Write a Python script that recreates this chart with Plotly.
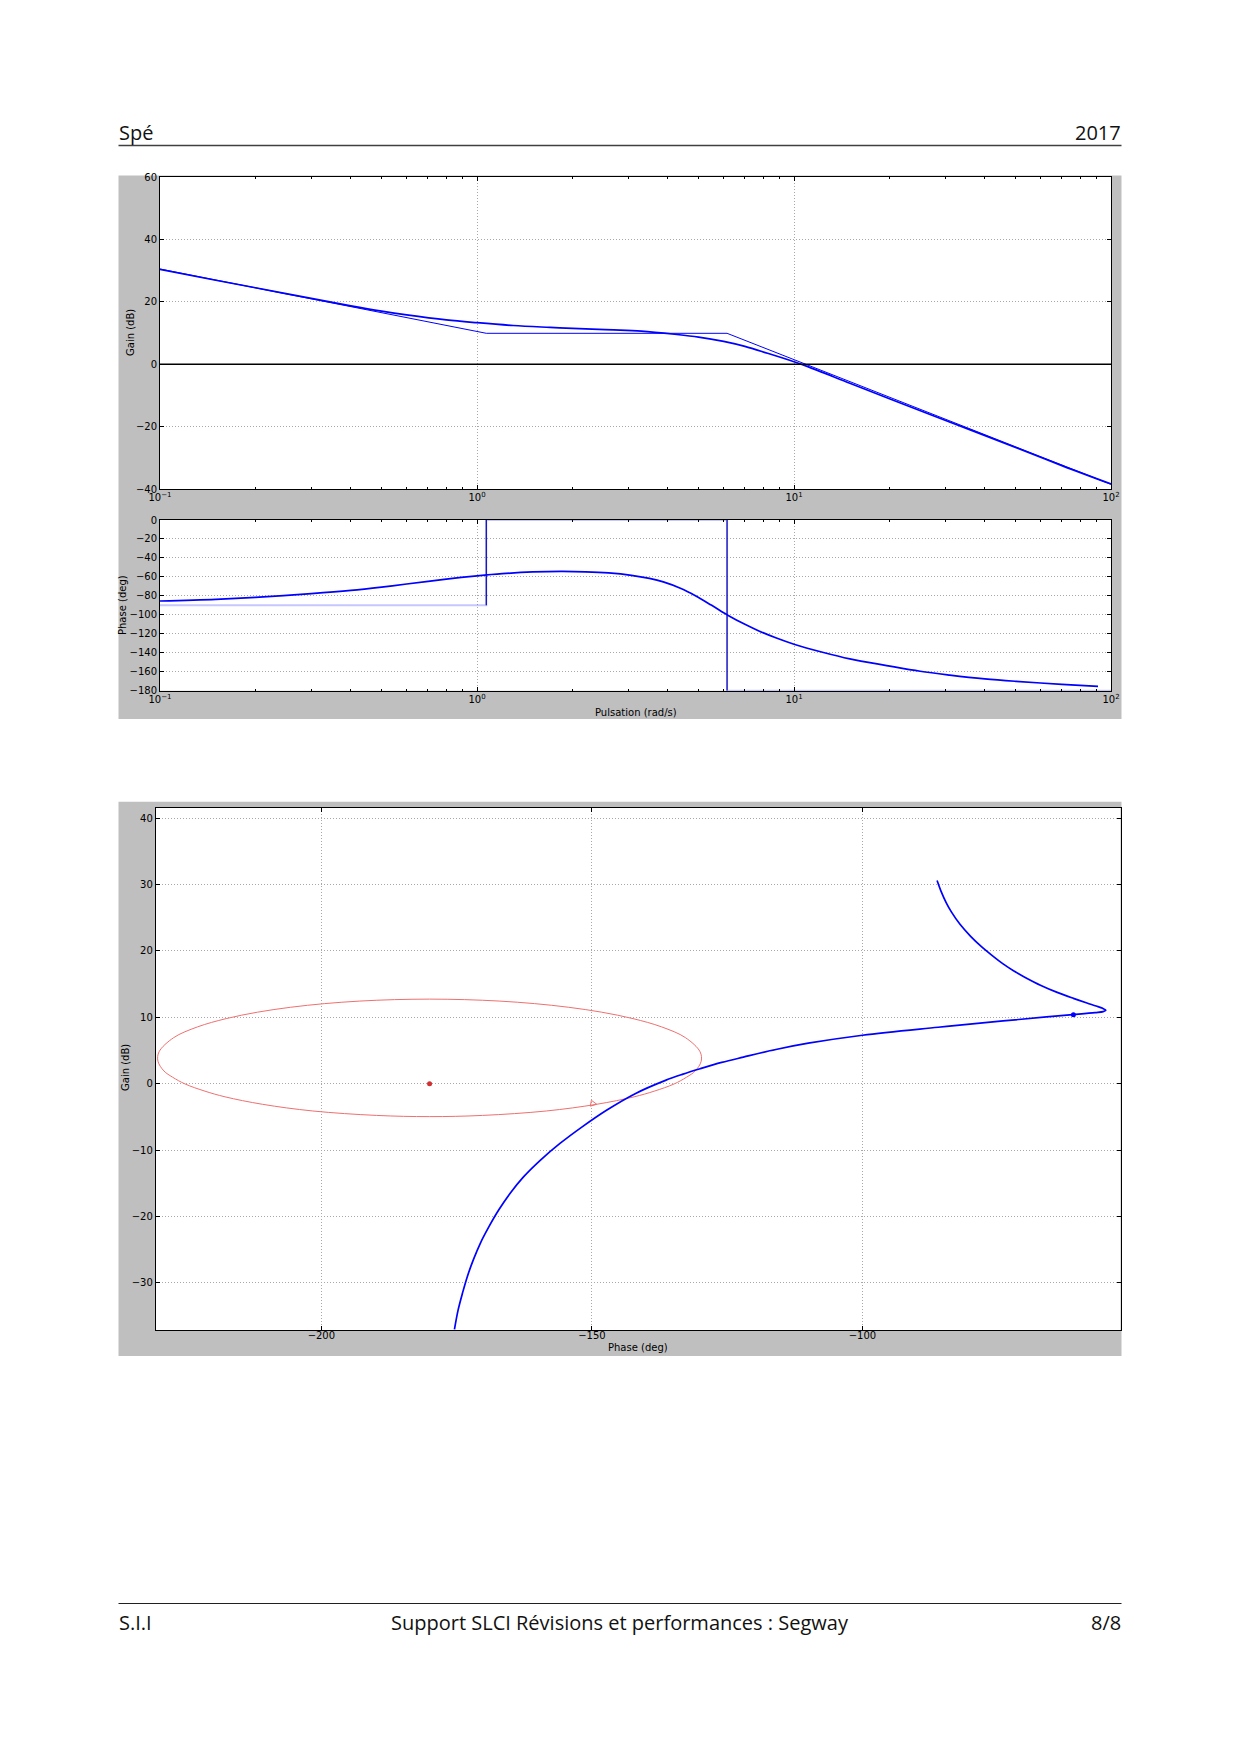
import plotly.graph_objects as go

W, H = 1240, 1754

# ---------------- data ----------------
# Bode gain, real curve
w_gain = [0.1, 0.15, 0.2, 0.3, 0.4, 0.5, 0.6, 0.8, 1.0, 1.3, 1.7, 2.2, 2.7, 3.3, 4.2,
          5.0, 6.0, 7.0, 8.25, 10.0, 11.0, 15.0, 20.0, 31.7, 50.0, 70.0, 100.0]
g_real = [30.4, 26.9, 24.5, 21.1, 18.7, 17.0, 15.8, 14.2, 13.3, 12.4, 11.8, 11.3, 11.0, 10.6, 9.6,
          8.7, 7.3, 5.7, 3.5, 0.8, -0.7, -6.1, -11.1, -18.9, -26.7, -32.5, -38.4]
# Bode gain, asymptotic curve
w_gain_asym = [0.1, 1.07, 6.15, 100.0]
g_asym = [30.5, 9.9, 9.9, -38.5]

# Bode phase, real curve
w_phase = [0.1, 0.15, 0.2, 0.3, 0.4, 0.5, 0.6, 0.8, 1.0, 1.2, 1.5, 1.84, 2.2, 2.6, 3.07,
           3.5, 3.87, 4.4, 4.87, 5.5, 6.2, 7.0, 7.75, 8.8, 10.0, 12.3, 15.0, 19.6, 25.0,
           31.0, 40.0, 50.0, 70.0, 91.0]
p_real = [-85.4, -83.6, -81.6, -77.7, -74.3, -70.8, -67.5, -62.3, -58.9, -56.6, -54.8, -54.2,
          -54.6, -55.8, -58.3, -61.6, -65.3, -72.2, -79.6, -90.0, -100.6, -110.0, -117.0,
          -124.5, -131.0, -139.5, -146.5, -153.5, -159.5, -163.5, -167.5, -170.1, -173.3, -175.4]
# Bode phase, asymptotic curve
w_phase_asym = [0.1, 1.07, 1.07, 6.15, 6.15, 100.0]
p_asym = [-90, -90, 0, 0, -180, -180]

# Black-Nichols curve (phase deg, gain dB)
bn_phase = [-86.2, -85.5, -84.5, -83.5, -82.0, -80.0, -78.0, -76.0, -74.0, -72.0, -70.0,
            -67.0, -64.0, -61.0, -58.5, -56.8, -55.6, -55.0, -55.5, -57.0, -61.0, -66.0,
            -74.0, -86.0, -100.0, -110.0, -116.0, -122.0, -126.0, -130.0, -133.3, -136.4,
            -142.0, -147.3, -151.8, -155.9, -159.5, -162.6, -165.1, -167.2, -169.0, -170.6,
            -171.9, -173.0, -173.9, -174.7, -175.4]
bn_gain = [30.6, 29.05, 27.25, 25.8, 24.05, 22.2, 20.65, 19.3, 18.05, 16.98, 16.05,
           14.8, 13.75, 12.85, 12.15, 11.7, 11.35, 11.05, 10.85, 10.7, 10.4, 10.05,
           9.45, 8.5, 7.3, 6.1, 5.15, 4.0, 3.2, 2.25, 1.4, 0.5,
           -1.5, -4.0, -6.5, -9.0, -11.5, -14.0, -16.5, -19.0, -21.5, -24.0,
           -26.5, -29.0, -31.5, -34.0, -37.0]
bn_marker = [(-61.0, 10.4)]

# iso-gain contour around the critical point
iso_phase = [-180.0, -170.2, -158.4, -149.1, -142.2, -138.5, -134.8, -132.5, -130.9, -129.8,
             -130.0, -132.7, -137.1, -142.4, -148.2, -154.3, -160.6, -167.0, -173.5, -180.0,
             -186.5, -193.0, -199.4, -205.7, -211.8, -217.6, -222.9, -227.3, -230.0, -230.2,
             -229.1, -227.5, -225.2, -221.5, -217.8, -210.9, -201.6, -189.8, -180.0]
iso_gain = [-4.96, -4.78, -4.11, -3.10, -1.98, -1.13, -0.04, 0.98, 1.92, 3.38,
            4.80, 6.93, 8.55, 9.80, 10.77, 11.51, 12.06, 12.44, 12.66, 12.74,
            12.66, 12.44, 12.06, 11.51, 10.77, 9.80, 8.55, 6.93, 4.80, 3.38,
            1.92, 0.98, -0.04, -1.13, -1.98, -3.10, -4.11, -4.78, -4.96]
iso_arrow = [(-149.1, -3.10)]
critical_point = [(-180.0, 0.0)]

gain_ticks = [-40, -20, 0, 20, 40, 60]
phase_ticks = [-180, -160, -140, -120, -100, -80, -60, -40, -20, 0]
bn_xticks = [-200, -150, -100]
bn_yticks = [-30, -20, -10, 0, 10, 20, 30, 40]
decades = [0.1, 1, 10, 100]
decade_labels = ["10<sup>\u22121</sup>", "10<sup>0</sup>", "10<sup>1</sup>", "10<sup>2</sup>"]
minor_log = [m * d for d in [0.1, 1, 10] for m in range(2, 10)]


def lab(v):
    return str(v).replace("-", "\u2212")


# ---------------- layout geometry (page pixels) ----------------
OFF = 8  # the page body offsets the figure by 8 px


def px(x):
    return (x - OFF) / W


def py(y):
    return 1 - (y - OFF) / H


BODE_BG = (118.5, 175.5, 1121.5, 719)
BN_BG = (118.5, 801.7, 1121.5, 1356)
GAIN_AREA = (160, 177, 1111, 489)
PHASE_AREA = (160, 520, 1111, 690.7)
BN_AREA = (155.8, 807.5, 1120.5, 1330)

BLUE = "#0000ff"
TICKFONT = dict(family="DejaVu Sans", size=10, color="black")

fig = go.Figure()

# Gain traces
fig.add_trace(go.Scatter(x=w_gain_asym, y=g_asym, mode="lines",
                         line=dict(color=BLUE, width=1), xaxis="x", yaxis="y"))
fig.add_trace(go.Scatter(x=w_gain, y=g_real, mode="lines", line_shape="spline",
                         line=dict(color=BLUE, width=1.7), xaxis="x", yaxis="y"))
# Phase traces: asymptote (horizontal parts rendered pale, vertical parts dark)
fig.add_trace(go.Scatter(x=w_phase_asym, y=p_asym, mode="lines",
                         line=dict(color="rgba(70,70,255,0.3)", width=2), xaxis="x2", yaxis="y2"))
vx, vy = [], []
for i in range(len(w_phase_asym) - 1):
    if w_phase_asym[i] == w_phase_asym[i + 1]:
        vx += [w_phase_asym[i], w_phase_asym[i + 1], None]
        vy += [p_asym[i], p_asym[i + 1], None]
fig.add_trace(go.Scatter(x=vx, y=vy, mode="lines",
                         line=dict(color="#1010b8", width=1.3), xaxis="x2", yaxis="y2"))
fig.add_trace(go.Scatter(x=w_phase, y=p_real, mode="lines", line_shape="spline",
                         line=dict(color=BLUE, width=1.7), xaxis="x2", yaxis="y2"))
# Black-Nichols
fig.add_trace(go.Scatter(x=iso_phase, y=iso_gain, mode="lines", line_shape="spline",
                         line=dict(color="#ee7070", width=1), xaxis="x3", yaxis="y3"))
fig.add_trace(go.Scatter(x=[p for p, g in iso_arrow], y=[g for p, g in iso_arrow],
                         mode="markers",
                         marker=dict(symbol="arrow-right-open", size=6, color="#ee7070",
                                     line=dict(color="#ee7070", width=1), angle=10),
                         xaxis="x3", yaxis="y3"))
fig.add_trace(go.Scatter(x=[p for p, g in critical_point], y=[g for p, g in critical_point],
                         mode="markers", marker=dict(size=5, color="#d03030"),
                         xaxis="x3", yaxis="y3"))
fig.add_trace(go.Scatter(x=bn_phase, y=bn_gain, mode="lines", line_shape="spline",
                         line=dict(color=BLUE, width=1.7, smoothing=1.0), xaxis="x3", yaxis="y3"))
fig.add_trace(go.Scatter(x=[p for p, g in bn_marker], y=[g for p, g in bn_marker],
                         mode="markers", marker=dict(size=5, color=BLUE),
                         xaxis="x3", yaxis="y3"))

common_axis = dict(showline=True, linecolor="black", linewidth=1, mirror="allticks",
                   ticks="inside", ticklen=4, tickcolor="black", tickfont=TICKFONT,
                   showgrid=True, gridcolor="#a8a8a8", griddash="1px,2px", gridwidth=1,
                   zeroline=False, automargin=False, ticklabelstandoff=0)

log_x = dict(common_axis, type="log", range=[-1, 2], tickvals=decades, ticktext=decade_labels,
             ticklabelstandoff=-1,
             minor=dict(ticks="inside", ticklen=2, tickcolor="black", tickvals=minor_log,
                        showgrid=False))

shapes = []
for (x0, y0, x1, y1), col in [(BODE_BG, "#bfbfbf"), (BN_BG, "#bfbfbf"),
                              (GAIN_AREA, "white"), (PHASE_AREA, "white"), (BN_AREA, "white")]:
    shapes.append(dict(type="rect", xref="paper", yref="paper", x0=px(x0), x1=px(x1),
                       y0=py(y1), y1=py(y0), fillcolor=col, line=dict(width=0), layer="below"))
# header / footer rules
shapes.append(dict(type="line", xref="paper", yref="paper", x0=px(118.5), x1=px(1121.5),
                   y0=py(145.5), y1=py(145.5), line=dict(color="#404040", width=1.5)))
shapes.append(dict(type="line", xref="paper", yref="paper", x0=px(118.5), x1=px(1121.5),
                   y0=py(1603.5), y1=py(1603.5), line=dict(color="#202020", width=1.2)))
# 0 dB line on the gain plot
shapes.append(dict(type="line", xref="x domain", yref="y", x0=0, x1=1, y0=0, y1=0,
                   line=dict(color="black", width=1.4)))

TXT = dict(family="Open Sans", size=20, color="#111111")
ann = [
    dict(text="Spé", x=px(117), y=py(133), xanchor="left", yanchor="middle", font=TXT),
    dict(text="2017", x=px(1123), y=py(133), xanchor="right", yanchor="middle", font=TXT),
    dict(text="S.I.I", x=px(117), y=py(1622), xanchor="left", yanchor="middle", font=TXT),
    dict(text="Support SLCI Révisions et performances : Segway", x=px(620), y=py(1622),
         xanchor="center", yanchor="middle", font=TXT),
    dict(text="8/8", x=px(1123), y=py(1622), xanchor="right", yanchor="middle", font=TXT),
    dict(text="Gain (dB)", x=px(130), y=py(333), textangle=-90, xanchor="center",
         yanchor="middle", font=TICKFONT),
    dict(text="Phase (deg)", x=px(122), y=py(605), textangle=-90, xanchor="center",
         yanchor="middle", font=TICKFONT),
    dict(text="Pulsation (rad/s)", x=px(635.5), y=py(712), xanchor="center",
         yanchor="middle", font=TICKFONT),
    dict(text="Gain (dB)", x=px(125), y=py(1068), textangle=-90, xanchor="center",
         yanchor="middle", font=TICKFONT),
    dict(text="Phase (deg)", x=px(638), y=py(1347), xanchor="center",
         yanchor="middle", font=TICKFONT),
]
for a in ann:
    a.update(xref="paper", yref="paper", showarrow=False)

fig.update_layout(
    width=W, height=H, margin=dict(l=0, r=0, t=0, b=0, pad=0, autoexpand=False),
    paper_bgcolor="white", plot_bgcolor="white", showlegend=False,
    shapes=shapes, annotations=ann,
    xaxis=dict(log_x, domain=[px(GAIN_AREA[0]), px(GAIN_AREA[2])], anchor="y"),
    yaxis=dict(common_axis, domain=[py(GAIN_AREA[3]), py(GAIN_AREA[1])], range=[-40, 60],
               tickvals=gain_ticks, ticktext=[lab(v) for v in gain_ticks], anchor="x"),
    xaxis2=dict(log_x, domain=[px(PHASE_AREA[0]), px(PHASE_AREA[2])], anchor="y2"),
    yaxis2=dict(common_axis, domain=[py(PHASE_AREA[3]), py(PHASE_AREA[1])], range=[-180, 0],
                tickvals=phase_ticks, ticktext=[lab(v) for v in phase_ticks], anchor="x2"),
    xaxis3=dict(common_axis, domain=[px(BN_AREA[0]), px(BN_AREA[2])], range=[-230.6, -52.3],
                tickvals=bn_xticks, ticktext=[lab(v) for v in bn_xticks], anchor="y3",
                ticklabelstandoff=-4),
    yaxis3=dict(common_axis, domain=[py(BN_AREA[3]), py(BN_AREA[1])], range=[-37.1, 41.6],
                tickvals=bn_yticks, ticktext=[lab(v) for v in bn_yticks], anchor="x3"),
)

fig.write_html("out.html")
